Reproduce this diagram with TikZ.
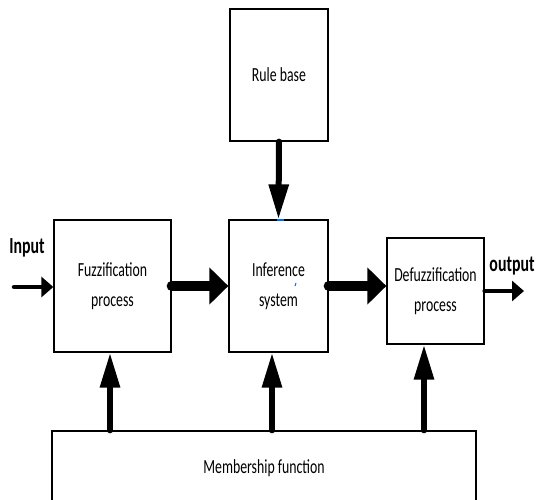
\documentclass[tikz,border=0pt]{standalone}
\usepackage{fontspec}
\setmainfont{Carlito}[FakeStretch=0.69]
\usetikzlibrary{arrows.meta}
\begin{document}
\begin{tikzpicture}[x=1pt,y=-1pt,
  block/.style={draw=black,line width=1.3pt,fill=white,inner sep=0pt,
    align=center,font=\fontsize{20}{30}\selectfont},
  bigarrow/.style={line width=10pt,line cap=round,
    -{Triangle[length=19pt,width=36pt]}},
  feedarrow/.style={line width=6pt,line cap=round,
    -{Triangle[length=35pt,width=19pt]}},
  ioarrow/.style={line width=4.5pt,line cap=round,
    -{Triangle[length=12pt,width=20pt]}},
  iolabel/.style={font=\fontsize{23}{28}\bfseries\selectfont,anchor=base,inner sep=0pt}]
\clip (0,0) rectangle (536,500);
\fill[white] (0,0) rectangle (536,500);

% blocks
\node[block,minimum width=98pt,minimum height=132pt] (rule) at (279,75) {Rule base};
\node[block,minimum width=117pt,minimum height=132pt] (fuzz) at (112.5,286) {Fuzzification\\process};
\node[block,minimum width=99pt,minimum height=132pt] (inf) at (278.5,286) {Inference\\system};
\node[block,minimum width=97pt,minimum height=106pt] (defuzz) at (435.5,291) {Defuzzification\\process};
\node[block,minimum width=424pt,minimum height=74pt] (memb) at (264,468) {Membership function};

% labels
\node[iolabel] (inlab) at (27,253) {Input};
\node[iolabel] (outlab) at (512,272) {output};

% reference points
\coordinate (inpt) at (14,287);
\coordinate (outpt) at (524,291);
\coordinate (c1) at (110,0);
\coordinate (c2) at (272,0);
\coordinate (c3) at (424,0);

% main flow
\draw[ioarrow] (inpt) -- (inpt -| fuzz.west);
\draw[bigarrow] (fuzz.east) -- (inf.west);
\draw[bigarrow] (inf.east) -- (inf.east -| defuzz.west);
\draw[ioarrow] (defuzz.east) -- (outpt);
\draw[feedarrow] (rule.south) -- (inf.north);

% membership feeds
\draw[feedarrow] (memb.north -| c1) -- (fuzz.south -| c1);
\draw[feedarrow] (memb.north -| c2) -- (inf.south -| c2);
\draw[feedarrow] (memb.north -| c3) -- (defuzz.south -| c3);

% small selection marks
\draw[blue!60!cyan,line width=1.5pt] (277,220) -- (284,220);
\draw[blue!60!cyan,line width=1pt] (296,283) -- (295,286);
\end{tikzpicture}
\end{document}
